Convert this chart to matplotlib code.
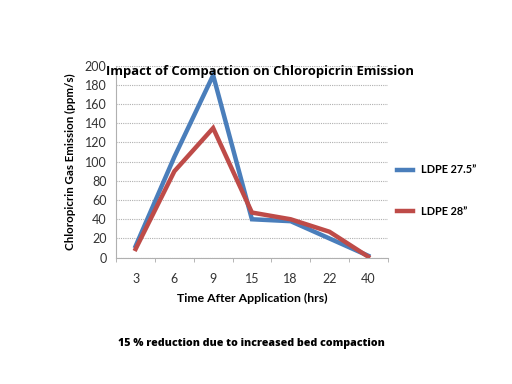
import matplotlib
matplotlib.use("Agg")
import matplotlib.pyplot as plt

# data
hours = ["3", "6", "9", "15", "18", "22", "40"]
ldpe_275 = [12, 105, 190, 40, 38, 20, 2]
ldpe_28 = [9, 90, 135, 47, 40, 27, 1]
yticks = [0, 20, 40, 60, 80, 100, 120, 140, 160, 180, 200]

plt.rcParams["font.family"] = ["Lato", "DejaVu Sans"]

fig = plt.figure(figsize=(5.12, 3.84), dpi=100)
ax = fig.add_axes([0.227, 0.329, 0.53, 0.5])

x = list(range(len(hours)))
ax.plot(x, ldpe_275, color="#4a7ebb", lw=3.2, label="LDPE 27.5\u201d", solid_joinstyle="miter")
ax.plot(x, ldpe_28, color="#be4b48", lw=3.2, label="LDPE 28\u201d", solid_joinstyle="miter")

ax.set_xlim(-0.5, len(hours) - 0.5)
ax.set_ylim(0, 200)
ax.set_yticks(yticks)
ax.set_xticks(x)
ax.set_xticklabels(hours)
ax.set_xticks([i - 0.5 for i in range(len(hours) + 1)], minor=True)
ax.tick_params(axis="x", which="major", length=0, pad=11, labelsize=9, colors="#333333")
ax.tick_params(axis="x", which="minor", length=3, color="#aaaaaa")
ax.tick_params(axis="y", length=0, pad=7, labelsize=9, colors="#333333")

ax.grid(axis="y", color="#b0b0b0", lw=0.8, ls=(0, (1, 1)))
for s in ["top", "right"]:
    ax.spines[s].set_visible(False)
ax.spines["left"].set_color("#b0b0b0")
ax.spines["left"].set_linestyle((0, (1, 1)))
ax.spines["bottom"].set_color("#b0b0b0")
ax.spines["bottom"].set_linestyle((0, (1, 1)))

ax.set_ylabel("Chloropicrin Gas Emission (ppm/s)", fontsize=8.3, fontweight="bold", labelpad=6)
ax.set_xlabel("Time After Application (hrs)", fontsize=8.8, fontweight="bold", labelpad=6)

fig.text(0.508, 0.814, "Impact of Compaction on Chloropicrin Emission",
         ha="center", va="center", fontsize=9.4, fontweight="bold",
         family=["Open Sans", "DejaVu Sans"])

ax.legend(loc="center left", bbox_to_anchor=(1.0, 0.35), frameon=False,
          handlelength=1.4, labelspacing=2.8,
          prop={"weight": "bold", "size": 7.8})

fig.text(0.49, 0.106, "15 % reduction due to increased bed compaction",
         ha="center", va="center", fontsize=7.7, fontweight="heavy",
         family=["Open Sans", "DejaVu Sans"])

fig.savefig("out.png", dpi=100)
